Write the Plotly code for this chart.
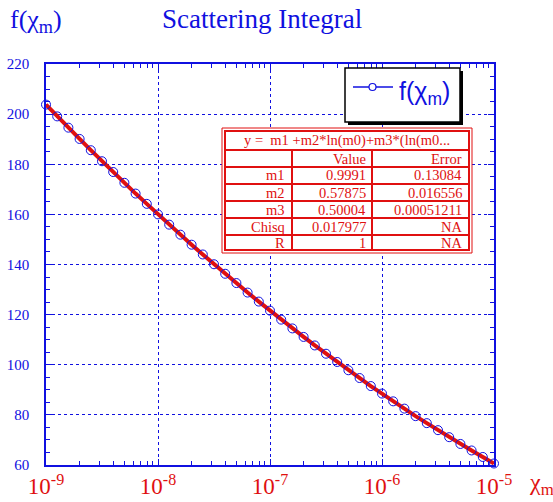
import plotly.graph_objects as go

# ---- data ----
chi_m = [1e-9 * 10 ** (k / 10) for k in range(41)]
f_chi = [203.8, 199.1, 194.6, 190.1, 185.6, 181.2, 176.9, 172.6, 168.3, 164.2,
         160.0, 155.9, 151.9, 147.9, 144.0, 140.1, 136.3, 132.6, 128.8, 125.2,
         121.6, 118.0, 114.5, 111.1, 107.7, 104.4, 101.1, 97.8, 94.7, 91.5,
         88.5, 85.4, 82.5, 79.5, 76.7, 73.9, 71.1, 68.4, 65.8, 63.2, 60.6]

fit_header = "y =  m1 +m2*ln(m0)+m3*(ln(m0..."
col_headers = ["", "Value", "Error"]
param_names = ["m1", "m2", "m3", "Chisq", "R"]
param_values = ["0.9991", "0.57875", "0.50004", "0.017977", "1"]
param_errors = ["0.13084", "0.016556", "0.00051211", "NA", "NA"]

x_ticks = [1e-9, 1e-8, 1e-7, 1e-6, 1e-5]
x_ticktext = ["10<sup>-9</sup>", "10<sup>-8</sup>", "10<sup>-7</sup>", "10<sup>-6</sup>", "10<sup>-5</sup>"]
y_ticks = [60, 80, 100, 120, 140, 160, 180, 200, 220]

W, H = 553, 502
L, R, T, B = 46, 494, 64, 465
BLUE = "#1010e0"
RED = "#e01010"
SERIF = "Liberation Serif, Times New Roman, serif"
SANS = "Liberation Sans, Arial, sans-serif"


def px(xp):
    return (xp - L) / (R - L)


def py(yp):
    return (B - yp) / (B - T)


fig = go.Figure()
fig.add_trace(go.Scatter(x=chi_m, y=f_chi, mode="lines", line=dict(color=BLUE, width=1.5),
                         name="f(χm)", showlegend=False, cliponaxis=False))
fig.add_trace(go.Scatter(x=chi_m, y=f_chi, mode="lines", line=dict(color=RED, width=4),
                         showlegend=False, cliponaxis=False))
fig.add_trace(go.Scatter(x=chi_m, y=f_chi, mode="markers", showlegend=False, cliponaxis=False,
                         marker=dict(symbol="circle-open", size=9, color=BLUE,
                                     line=dict(width=1, color=BLUE))))

shapes = []
annotations = []

# legend box (drawn) with shadow
shapes.append(dict(type="rect", xref="paper", yref="paper",
                   x0=px(348), x1=px(463), y0=py(125), y1=py(71),
                   fillcolor="black", line=dict(width=0), layer="above"))
shapes.append(dict(type="rect", xref="paper", yref="paper",
                   x0=px(345), x1=px(460), y0=py(122), y1=py(68),
                   fillcolor="white", line=dict(color="black", width=1.5), layer="above"))
shapes.append(dict(type="line", xref="paper", yref="paper",
                   x0=px(353), x1=px(393), y0=py(87), y1=py(87),
                   line=dict(color=BLUE, width=1.5), layer="above"))
shapes.append(dict(type="circle", xref="paper", yref="paper",
                   x0=px(369), x1=px(376), y0=py(90.5), y1=py(83.5),
                   fillcolor="white", line=dict(color=BLUE, width=1.2), layer="above"))
annotations.append(dict(text="f(χ<sub>m</sub>)", xref="paper", yref="paper",
                        x=px(397), y=py(93), showarrow=False, xanchor="left", yanchor="middle",
                        font=dict(family=SANS, size=25, color=BLUE)))

# table
tx0, tx1, ty0, ty1 = 222, 472, 128, 253
shapes.append(dict(type="rect", xref="paper", yref="paper", x0=px(tx0), x1=px(tx1),
                   y0=py(ty1), y1=py(ty0), fillcolor="white",
                   line=dict(color=RED, width=1), layer="above"))
shapes.append(dict(type="rect", xref="paper", yref="paper", x0=px(tx0 + 3), x1=px(tx1 - 3),
                   y0=py(ty1 - 3), y1=py(ty0 + 3),
                   line=dict(color=RED, width=2), layer="above"))
row_lines = [150, 167, 184, 201, 218, 235]
for ry in row_lines:
    shapes.append(dict(type="line", xref="paper", yref="paper", x0=px(tx0 + 3), x1=px(tx1 - 3),
                       y0=py(ry), y1=py(ry), line=dict(color=RED, width=2), layer="above"))
for cx in [292, 372]:
    shapes.append(dict(type="line", xref="paper", yref="paper", x0=px(cx), x1=px(cx),
                       y0=py(150), y1=py(ty1 - 3), line=dict(color=RED, width=2), layer="above"))

tfont = dict(family=SERIF, size=14.5, color=RED)
annotations.append(dict(text=fit_header, xref="paper", yref="paper", x=px(347), y=py(140),
                        showarrow=False, font=tfont, xanchor="center", yanchor="middle"))
row_centers = [158.5, 175.5, 192.5, 209.5, 226.5, 243]
col_right = [287, 368, 464]
rows = [col_headers] + [[n, v, e] for n, v, e in zip(param_names, param_values, param_errors)]
for ri, row in enumerate(rows):
    for ci, txt in enumerate(row):
        if txt:
            annotations.append(dict(text=txt, xref="paper", yref="paper", x=px(col_right[ci]),
                                    y=py(row_centers[ri]), showarrow=False, font=tfont,
                                    xanchor="right", yanchor="middle"))

# titles
annotations.append(dict(text="Scattering Integral", xref="paper", yref="paper",
                        x=px(261.5), y=py(19), showarrow=False, xanchor="center", yanchor="middle",
                        font=dict(family=SERIF, size=27, color=BLUE)))
annotations.append(dict(text="f(χ<sub>m</sub>)", xref="paper", yref="paper",
                        x=px(8), y=py(21), showarrow=False, xanchor="left", yanchor="middle",
                        font=dict(family=SERIF, size=26, color=BLUE)))
annotations.append(dict(text="χ<sub>m</sub>", xref="paper", yref="paper",
                        x=px(527), y=py(484), showarrow=False, xanchor="left", yanchor="middle",
                        font=dict(family=SERIF, size=24, color=RED)))

fig.update_layout(
    width=W, height=H,
    margin=dict(l=L, r=W - R, t=T, b=H - B, pad=0, autoexpand=False),
    paper_bgcolor="white", plot_bgcolor="white",
    shapes=shapes, annotations=annotations, showlegend=False,
    xaxis=dict(type="log", range=[-9, -5], tickvals=x_ticks, ticktext=x_ticktext,
               tickfont=dict(family=SERIF, size=23, color=RED), automargin=False,
               showline=True, linecolor=BLUE, linewidth=1.5, mirror="allticks",
               ticks="inside", ticklen=6, tickcolor=BLUE, tickwidth=1,
               showgrid=True, gridcolor=BLUE, griddash="dot", gridwidth=1,
               zeroline=False, ticklabelstandoff=0,
               minor=dict(ticks="inside", ticklen=4, tickcolor=BLUE, dtick="D1", showgrid=False)),
    yaxis=dict(range=[60, 220], tickvals=y_ticks, automargin=False,
               tickfont=dict(family=SERIF, size=15, color=BLUE),
               showline=True, linecolor=BLUE, linewidth=1.5, mirror="allticks",
               ticks="inside", ticklen=6, tickcolor=BLUE, tickwidth=1,
               showgrid=True, gridcolor=BLUE, griddash="dot", gridwidth=1,
               zeroline=False, ticklabelstandoff=12,
               minor=dict(ticks="inside", ticklen=4, tickcolor=BLUE, dtick=5, showgrid=False)),
)

fig.write_html("out.html")
